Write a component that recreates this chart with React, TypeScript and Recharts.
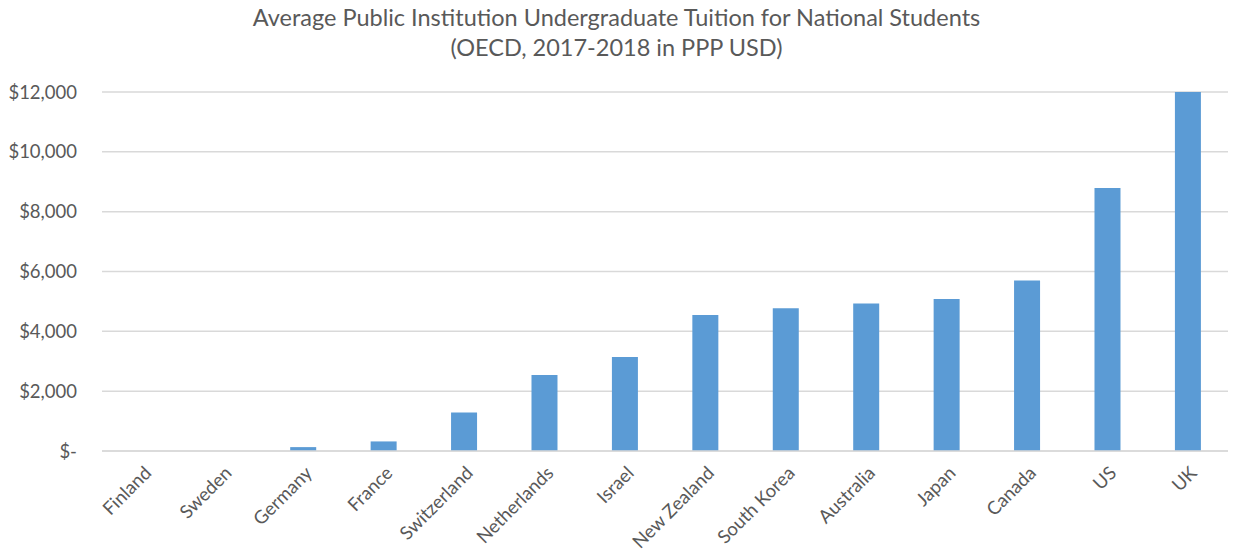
import React from "react";
import { BarChart, Bar, XAxis, YAxis, CartesianGrid } from "recharts";

const countries = [
  "Finland", "Sweden", "Germany", "France", "Switzerland", "Netherlands", "Israel",
  "New Zealand", "South Korea", "Australia", "Japan", "Canada", "US", "UK",
];
const tuition = [0, 0, 130, 320, 1290, 2540, 3140, 4550, 4770, 4930, 5080, 5700, 8790, 12000];
const yTicks = [0, 2000, 4000, 6000, 8000, 10000, 12000];

const data = countries.map((name, i) => ({ name, tuition: tuition[i] }));

const FONT = "Lato, 'Open Sans', sans-serif";
const GRAY = "#595959";

const fmt = (v: number) => (v === 0 ? "$-" : "$" + v.toLocaleString("en-US"));

// rotated category label, ending at the tick
const CountryTick = (props: any) => {
  const { x, y, payload } = props;
  return (
    <g transform={`translate(${x + 6},${y + 11})`}>
      <text
        transform="rotate(-45)"
        textAnchor="end"
        fill={GRAY}
        fontSize={18.5}
        fontFamily={FONT}
        dy={6}
      >
        {payload.value}
      </text>
    </g>
  );
};

const App: React.FC = () => {
  return (
    <div style={{ position: "absolute", left: 0, top: 0, width: 1233, height: 556, background: "#fff" }}>
      <div
        style={{
          position: "absolute",
          top: 2,
          left: 0,
          width: 1233,
          textAlign: "center",
          fontFamily: FONT,
          fontSize: 23.5,
          lineHeight: "30px",
          color: GRAY,
        }}
      >
        Average Public Institution Undergraduate Tuition for National Students
        <br />
        (OECD, 2017-2018 in PPP USD)
      </div>
      <BarChart
        width={1233}
        height={556}
        data={data}
        margin={{ top: 92, right: 5, bottom: 0, left: 0 }}
        barCategoryGap="34%"
      >
        <CartesianGrid vertical={false} stroke="#d9d9d9" strokeWidth={1.5} />
        <XAxis
          dataKey="name"
          interval={0}
          height={105}
          tickLine={false}
          axisLine={{ stroke: "#d9d9d9", strokeWidth: 1.5 }}
          tick={<CountryTick />}
        />
        <YAxis
          width={102}
          domain={[0, 12000]}
          ticks={yTicks}
          tickFormatter={fmt}
          tickLine={false}
          axisLine={false}
          tickMargin={19}
          tick={{ fill: GRAY, fontSize: 18.5, fontFamily: FONT }}
        />
        <Bar dataKey="tuition" fill="#5b9bd5" isAnimationActive={false} />
      </BarChart>
    </div>
  );
};

export default App;
